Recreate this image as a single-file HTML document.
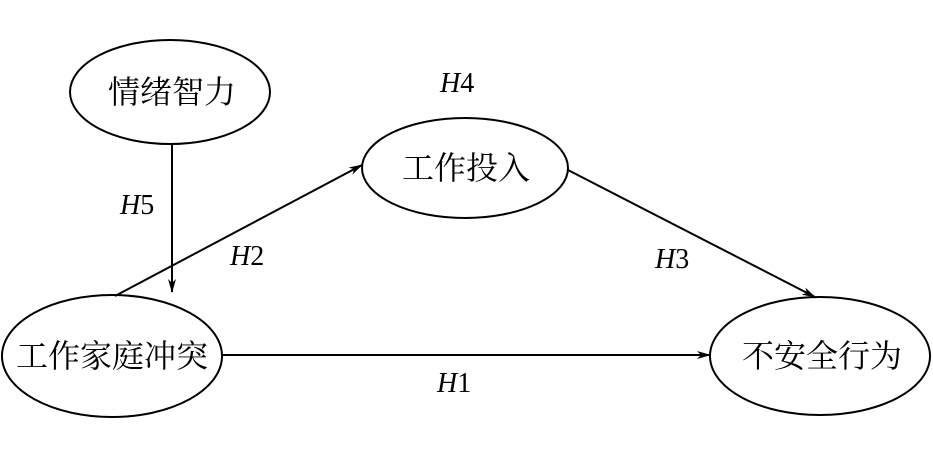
<!DOCTYPE html>
<html><head><meta charset="utf-8"><style>
html,body{margin:0;padding:0;background:#fff}
svg{display:block}
.cn{font-family:"Liberation Serif","Noto Serif CJK SC",serif;font-size:32px;fill:#000}
.h{font-family:"Liberation Serif",serif;font-style:italic;font-size:28px;fill:#000}
.h tspan{font-style:normal}
</style></head><body>
<svg width="933" height="453" viewBox="0 0 933 453" xmlns="http://www.w3.org/2000/svg">
<defs><marker id="a" markerWidth="14" markerHeight="8" refX="13" refY="4" orient="auto" markerUnits="userSpaceOnUse"><path d="M0,0 L14,4 L0,8 L4,4 Z" fill="#000"/></marker></defs>
<g fill="none" stroke="#000" stroke-width="2">
<ellipse cx="170" cy="92" rx="100" ry="52"/>
<ellipse cx="465" cy="168" rx="103" ry="50"/>
<ellipse cx="112" cy="356" rx="110" ry="61"/>
<ellipse cx="820" cy="356" rx="110" ry="59"/>
<line x1="172" y1="144" x2="172" y2="292" marker-end="url(#a)"/>
<line x1="115" y1="296" x2="362" y2="165" marker-end="url(#a)"/>
<line x1="568" y1="170" x2="815" y2="297" marker-end="url(#a)"/>
<line x1="222" y1="355" x2="710" y2="355" marker-end="url(#a)"/>
</g>
<text class="cn" x="172" y="103" text-anchor="middle">情绪智力</text>
<text class="cn" x="466" y="179" text-anchor="middle">工作投入</text>
<text class="cn" x="112" y="367" text-anchor="middle">工作家庭冲突</text>
<text class="cn" x="822" y="367" text-anchor="middle">不安全行为</text>
<text class="h" x="120" y="214">H<tspan>5</tspan></text>
<text class="h" x="230" y="265">H<tspan>2</tspan></text>
<text class="h" x="655" y="268">H<tspan>3</tspan></text>
<text class="h" x="440" y="92">H<tspan>4</tspan></text>
<text class="h" x="437" y="392">H<tspan>1</tspan></text>
</svg>
</body></html>
